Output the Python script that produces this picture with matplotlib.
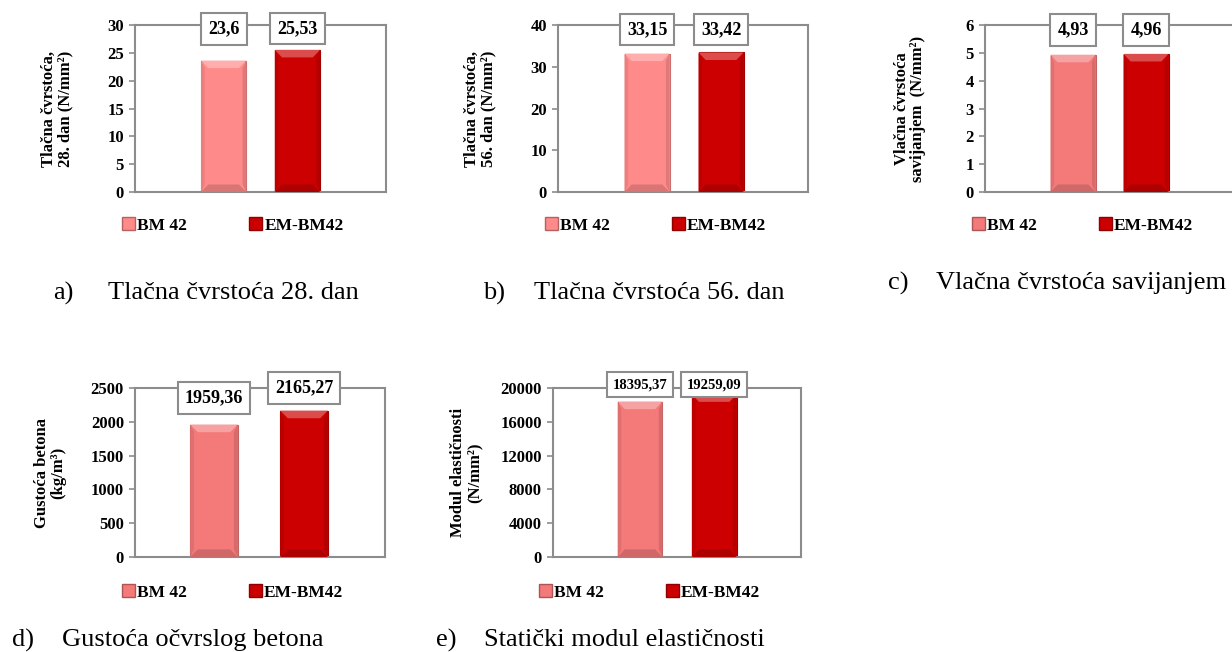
import numpy as np
import matplotlib
matplotlib.use('Agg')
import matplotlib.pyplot as plt
from matplotlib.patches import Patch, Polygon

plt.rcParams['font.family'] = ['Liberation Serif', 'DejaVu Serif']

# podaci
series = ['BM 42', 'EM-BM42']
tlacna_28 = [23.6, 25.53]
tlacna_56 = [33.15, 33.42]
vlacna_sav = [4.93, 4.96]
gustoca = [1959.36, 2165.27]
modul = [18395.37, 19259.09]

ylabels = ['Tlačna čvrstoća,\n28. dan (N/mm²)',
           'Tlačna čvrstoća,\n56. dan (N/mm²)',
           'Vlačna čvrstoća\nsavijanjem  (N/mm²)',
           'Gustoća betona\n(kg/m³)',
           'Modul elastičnosti\n(N/mm²)']
captions = [('a)', 'Tlačna čvrstoća 28. dan'),
            ('b)', 'Tlačna čvrstoća 56. dan'),
            ('c)', 'Vlačna čvrstoća savijanjem'),
            ('d)', 'Gustoća očvrslog betona'),
            ('e)', 'Statički modul elastičnosti')]

W, H = 1232, 652
fig = plt.figure(figsize=(W / 100, H / 100), dpi=100)

light_bm = '#FF8A8A'
light_bm2 = '#F47A7A'
red_em = '#CC0000'


def shade(c, f):
    c = np.array(matplotlib.colors.to_rgb(c))
    if f > 0:
        c = c + (1 - c) * f
    else:
        c = c * (1 + f)
    return tuple(np.clip(c, 0, 1))


def bevel_bars(ax, bars, colors, ymax):
    for b, c in zip(bars, colors):
        x, y, w, h = b.get_x(), b.get_y(), b.get_width(), b.get_height()
        dy = 0.045 * ymax
        dx = 0.16 * w
        top = Polygon([(x, y + h), (x + w, y + h), (x + w - dx, y + h - dy), (x + dx, y + h - dy)],
                      closed=True, facecolor=shade(c, 0.3), edgecolor='none', zorder=3)
        bot = Polygon([(x, y), (x + w, y), (x + w - dx, y + dy), (x + dx, y + dy)],
                      closed=True, facecolor=shade(c, -0.15), edgecolor='none', zorder=3)
        left = Polygon([(x, y), (x, y + h), (x + dx * 0.5, y + h - dy), (x + dx * 0.5, y + dy)],
                       closed=True, facecolor=shade(c, -0.08), edgecolor='none', zorder=3)
        right = Polygon([(x + w, y), (x + w, y + h), (x + w - dx * 0.5, y + h - dy), (x + w - dx * 0.5, y + dy)],
                        closed=True, facecolor=shade(c, -0.12), edgecolor='none', zorder=3)
        for p in (top, bot, left, right):
            ax.add_patch(p)


def panel(rect, vals, ymax, step, ylabel, colors, offs, bw, box_y, box_fs, ylab_x, leg_y):
    ax = fig.add_axes(rect)
    x = np.arange(1)
    bars = []
    for i in range(2):
        bars.append(ax.bar(x + offs[i], vals[i], width=bw, color=colors[i],
                           edgecolor=shade(colors[i], -0.2), linewidth=0.8, zorder=2)[0])
    bevel_bars(ax, bars, colors, ymax)
    ax.set_xlim(-0.5, 0.5)
    ax.set_ylim(0, ymax)
    ax.set_yticks(np.arange(0, ymax + step / 2, step))
    ax.set_xticks([])
    for s in ax.spines.values():
        s.set_color('#8C8C8C')
        s.set_linewidth(1.5)
    ax.tick_params(axis='y', length=4, width=1.2, color='#8C8C8C', pad=4, labelsize=12)
    for t in ax.get_yticklabels():
        t.set_fontweight('bold')
    ax.text(ylab_x, 0.5, ylabel, transform=ax.transAxes, rotation=90, ha='center', va='center',
            fontsize=12, fontweight='bold', linespacing=1.05)
    for i in range(2):
        lab = str(vals[i]).replace('.', ',')
        ax.text(0.5 + offs[i], box_y[i], lab, transform=ax.transAxes, ha='center', va='center',
                fontsize=box_fs, fontweight='bold', zorder=5,
                bbox=dict(boxstyle='square,pad=0.4', facecolor='white', edgecolor='#8C8C8C', linewidth=1.5))
    handles = [Patch(facecolor=colors[i], edgecolor=shade(colors[i], -0.3), label=series[i]) for i in range(2)]
    ax.legend(handles=handles, loc='center', bbox_to_anchor=(0.39, leg_y), ncol=2, frameon=False,
              handlelength=0.75, handleheight=0.75, handletextpad=0.1, columnspacing=3.6,
              prop={'weight': 'bold', 'size': 12.5})
    return ax


panel([135 / W, 1 - 192 / H, 251 / W, 167 / H], tlacna_28, 30, 5, ylabels[0], [light_bm, red_em],
      [-0.147, 0.147], 0.18, [0.976, 0.98], 13, -0.31, -0.2)
panel([558 / W, 1 - 192 / H, 250 / W, 167 / H], tlacna_56, 40, 10, ylabels[1], [light_bm, red_em],
      [-0.144, 0.152], 0.18, [0.973, 0.973], 13, -0.31, -0.2)
panel([985 / W, 1 - 192 / H, 250 / W, 167 / H], vlacna_sav, 6, 1, ylabels[2], [light_bm2, red_em],
      [-0.148, 0.144], 0.18, [0.97, 0.97], 13, -0.30, -0.2)
panel([135 / W, 1 - 557 / H, 250 / W, 169 / H], gustoca, 2500, 500, ylabels[3], [light_bm2, red_em],
      [-0.184, 0.176], 0.19, [0.94, 1.0], 13, -0.34, -0.21)
panel([553 / W, 1 - 557 / H, 248 / W, 169 / H], modul, 20000, 4000, ylabels[4], [light_bm2, red_em],
      [-0.149, 0.15], 0.18, [1.02, 1.02], 10.5, -0.35, -0.21)

cap_pos = [(53, 108, 293), (483, 534, 293), (888, 936, 283), (12, 62, 640), (436, 484, 640)]
for (lx, tx, ty), (l, t) in zip(cap_pos, captions):
    fig.text(lx / W, 1 - ty / H, l, ha='left', va='center', fontsize=19)
    fig.text(tx / W, 1 - ty / H, t, ha='left', va='center', fontsize=19)

fig.savefig('out.png', dpi=100)
